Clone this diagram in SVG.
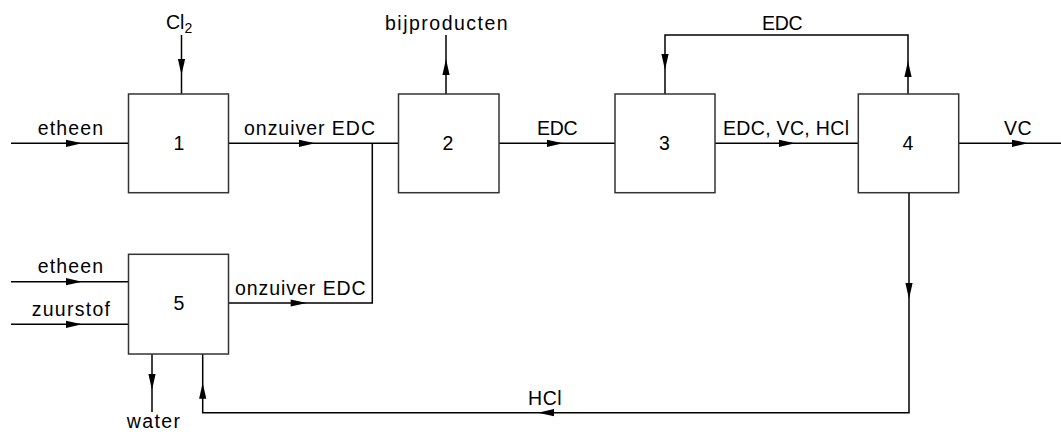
<svg xmlns="http://www.w3.org/2000/svg" xmlns:xlink="http://www.w3.org/1999/xlink" width="1061" height="432" viewBox="0 0 1061 432">
<style>
.box{fill:#fff;stroke:#333;stroke-width:1.5}
.ln{fill:none;stroke:#000;stroke-width:1.5}
.t{font-family:"Liberation Sans",Arial,sans-serif;font-size:19.5px;fill:#000}
.n{font-family:"Liberation Sans",Arial,sans-serif;font-size:19.5px;fill:#000;text-anchor:middle}
</style>
<defs>
<path id="ah" d="M0,0 L-16,-3.6 L-16,3.6 Z" fill="#000"/>
</defs>
<rect width="1061" height="432" fill="#fff"/>
<g id="connectors">
<path class="ln" d="M11,143.3 H128.5"/>
<path class="ln" d="M181.5,35 V94"/>
<path class="ln" d="M228.5,143.3 H398.5"/>
<path class="ln" d="M228.5,303 H372.3 V143.3"/>
<path class="ln" d="M446,94 V35"/>
<path class="ln" d="M499,143.3 H615"/>
<path class="ln" d="M715,143.3 H858.3"/>
<path class="ln" d="M665,94 V35 H908 V94"/>
<path class="ln" d="M958.7,143.3 H1061"/>
<path class="ln" d="M909,192.7 V412.7 H202.7 V354"/>
<path class="ln" d="M152,354 V412"/>
<path class="ln" d="M11,281.7 H128.5"/>
<path class="ln" d="M11,324.3 H128.5"/>
<use xlink:href="#ah" transform="translate(82,143.3)"/>
<use xlink:href="#ah" transform="translate(181.5,75) rotate(90)"/>
<use xlink:href="#ah" transform="translate(315,143.3)"/>
<use xlink:href="#ah" transform="translate(446,59) rotate(-90)"/>
<use xlink:href="#ah" transform="translate(563,143.3)"/>
<use xlink:href="#ah" transform="translate(665,70) rotate(90)"/>
<use xlink:href="#ah" transform="translate(795,143.3)"/>
<use xlink:href="#ah" transform="translate(908,61) rotate(-90)"/>
<use xlink:href="#ah" transform="translate(1028,143.3)"/>
<use xlink:href="#ah" transform="translate(909,299) rotate(90)"/>
<use xlink:href="#ah" transform="translate(538,412.7) rotate(180)"/>
<use xlink:href="#ah" transform="translate(202.7,382.7) rotate(-90)"/>
<use xlink:href="#ah" transform="translate(152,390) rotate(90)"/>
<use xlink:href="#ah" transform="translate(82,281.7)"/>
<use xlink:href="#ah" transform="translate(82,324.3)"/>
<use xlink:href="#ah" transform="translate(306.7,303)"/>
</g>
<g id="node1"><rect class="box" x="128.5" y="94" width="100" height="98.7"/><text class="n" x="179" y="149.5">1</text></g>
<g id="node2"><rect class="box" x="398.5" y="94" width="100.5" height="98.7"/><text class="n" x="448" y="149.5">2</text></g>
<g id="node3"><rect class="box" x="615" y="94" width="100" height="98.7"/><text class="n" x="664.5" y="149.5">3</text></g>
<g id="node4"><rect class="box" x="858.3" y="94" width="100.4" height="98.7"/><text class="n" x="908" y="149.5">4</text></g>
<g id="node5"><rect class="box" x="128.5" y="254.3" width="100" height="99.7"/><text class="n" x="179" y="309.5">5</text></g>
<g id="labels">
<text class="t" x="166" y="29.3">Cl<tspan font-size="14px" dy="4">2</tspan></text>
<text class="t" x="37.7" y="135" textLength="65.3" lengthAdjust="spacing">etheen</text>
<text class="t" x="244" y="135" textLength="131" lengthAdjust="spacing">onzuiver EDC</text>
<text class="t" x="385" y="30" textLength="122.7" lengthAdjust="spacing">bijproducten</text>
<text class="t" x="537" y="135" textLength="40.7" lengthAdjust="spacing">EDC</text>
<text class="t" x="762" y="29.5" textLength="40.7" lengthAdjust="spacing">EDC</text>
<text class="t" x="723" y="135" textLength="126" lengthAdjust="spacing">EDC, VC, HCl</text>
<text class="t" x="1004" y="135" textLength="27.7" lengthAdjust="spacing">VC</text>
<text class="t" x="37.7" y="272.7" textLength="65.3" lengthAdjust="spacing">etheen</text>
<text class="t" x="31.7" y="316" textLength="78.3" lengthAdjust="spacing">zuurstof</text>
<text class="t" x="235" y="295" textLength="130.7" lengthAdjust="spacing">onzuiver EDC</text>
<text class="t" x="528" y="405" textLength="33.7" lengthAdjust="spacing">HCl</text>
<text class="t" x="126.7" y="428" textLength="53.3" lengthAdjust="spacing">water</text>
</g>
</svg>
